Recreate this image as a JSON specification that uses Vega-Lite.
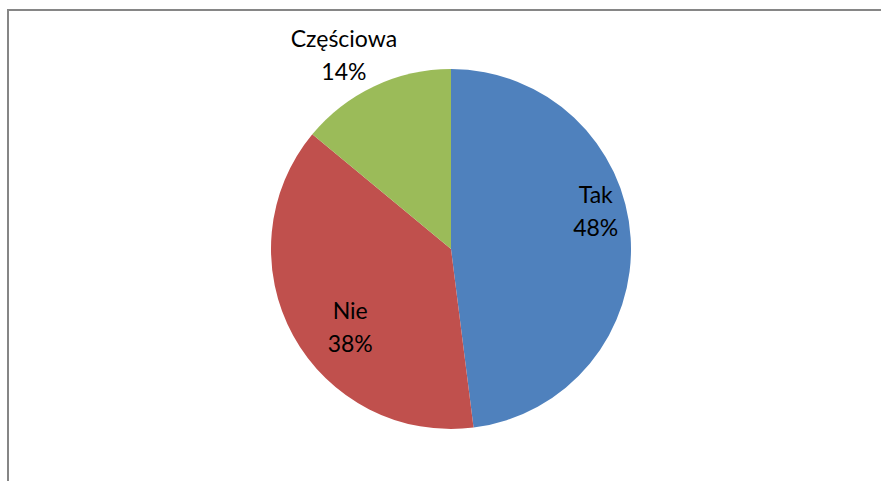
{
  "$schema": "https://vega.github.io/schema/vega-lite/v6.json",
  "autosize": {"type": "none"},
  "padding": {"left": 8, "top": 10, "right": 0, "bottom": 0},
  "width": 886,
  "height": 478,
  "background": "white",
  "view": {"stroke": "#868686", "strokeWidth": 2},
  "config": {"view": {"stroke": "#868686", "strokeWidth": 2}},
  "data": {"values": [
    {"cat": "Tak", "value": 48, "ord": 1},
    {"cat": "Nie", "value": 38, "ord": 2},
    {"cat": "Częściowa", "value": 14, "ord": 3}
  ]},
  "transform": [{"calculate": "datum.cat + '\\n' + datum.value + '%'", "as": "label"}],
  "encoding": {
    "theta": {"field": "value", "type": "quantitative", "stack": true},
    "order": {"field": "ord", "type": "quantitative"}
  },
  "layer": [
    {
      "mark": {"type": "arc", "outerRadius": 180},
      "encoding": {
        "color": {"field": "cat", "type": "nominal", "legend": null,
          "scale": {"domain": ["Tak", "Nie", "Częściowa"], "range": ["#4F81BD", "#C0504D", "#9BBB59"]}}
      }
    },
    {
      "mark": {"type": "text", "radius": 145, "dy": -44, "font": "Lato", "fontSize": 23, "lineHeight": 33, "lineBreak": "\n", "color": "black"},
      "encoding": {"text": {"condition": {"test": "datum.cat == 'Tak'", "field": "label"}, "value": ""}}
    },
    {
      "mark": {"type": "text", "radius": 115, "dy": 8, "font": "Lato", "fontSize": 23, "lineHeight": 33, "lineBreak": "\n", "color": "black"},
      "encoding": {"text": {"condition": {"test": "datum.cat == 'Nie'", "field": "label"}, "value": ""}}
    },
    {
      "mark": {"type": "text", "radius": 214, "dx": -16, "dy": -15, "font": "Lato", "fontSize": 23, "lineHeight": 33, "lineBreak": "\n", "color": "black"},
      "encoding": {"text": {"condition": {"test": "datum.cat == 'Częściowa'", "field": "label"}, "value": ""}}
    }
  ]
}
